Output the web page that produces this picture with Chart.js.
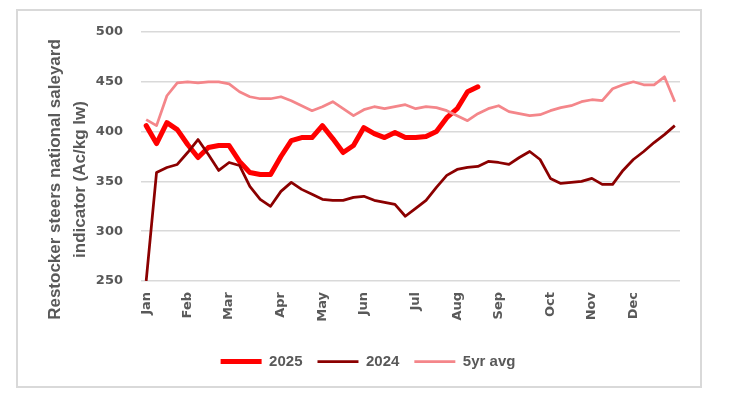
<!DOCTYPE html>
<html>
<head>
<meta charset="utf-8">
<script src="https://cdn.jsdelivr.net/npm/chart.js@4.4.1/dist/chart.umd.min.js"></script>
<style>
  html, body { margin: 0; padding: 0; background: #fff; }
  #frame { position: absolute; left: 16px; top: 9px; width: 686px; height: 379px; box-sizing: border-box; border: 2px solid #d9d9d9; }
  #wrap { position: absolute; left: 0; top: 0; width: 736px; height: 397px; }
</style>
</head>
<body>
<div id="frame"></div>
<div id="wrap"><canvas id="chart"></canvas></div>
<script>
// weekly series, 52 weeks
const monthNames = ['Jan', 'Feb', 'Mar', 'Apr', 'May', 'Jun', 'Jul', 'Aug', 'Sep', 'Oct', 'Nov', 'Dec']
const monthWeeks = [0, 4, 8, 13, 17, 21, 26, 30, 34, 39, 43, 47]

const y2025 = [406, 388, 409, 402, 387, 374, 384, 386, 386, 370, 359, 357, 357, 375, 391, 394,
  394, 406, 393, 379, 386, 404, 398, 394, 399, 394, 394, 395, 400, 414, 423, 440, 445]

const y2024 = [250, 359, 364, 367, 379, 392, 377, 361, 369, 366, 345, 332, 325, 340, 349, 342,
  337, 332, 331, 331, 334, 335, 331, 329, 327, 315, 323, 331, 344, 356, 362, 364,
  365, 370, 369, 367, 374, 380, 372, 353, 348, 349, 350, 353, 347, 347, 361, 372,
  380, 389, 397, 406]

const avg5yr = [412, 406, 436, 449, 450, 449, 450, 450, 448, 440, 435, 433, 433, 435, 431, 426,
  421, 425, 430, 423, 416, 422, 425, 423, 425, 427, 423, 425, 424, 421, 416, 411,
  418, 423, 426, 420, 418, 416, 417, 421, 424, 426, 430, 432, 431, 443, 447, 450,
  447, 447, 455, 430]

const yTicks = [250, 300, 350, 400, 450, 500]
const yTitle = ['Restocker steers national saleyard', 'indicator (Ac/kg lw)']

const weekLabels = y2024.map((v, i) => {
  const m = monthWeeks.indexOf(i)
  return m >= 0 ? monthNames[m] : ''
})

const grey = '#595959'
Chart.defaults.font.family = '"Liberation Sans", Arial, sans-serif'
Chart.defaults.color = grey

// month labels read bottom-to-top, like the original
const monthLabels = {
  id: 'monthLabels',
  afterDraw(chart) {
    const { ctx, chartArea } = chart
    const xs = chart.scales.x
    ctx.save()
    ctx.font = 'bold 13px "DejaVu Sans"'
    ctx.fillStyle = grey
    ctx.textAlign = 'right'
    ctx.textBaseline = 'middle'
    weekLabels.forEach((lab, i) => {
      if (!lab) return
      ctx.save()
      ctx.translate(xs.getPixelForValue(i), chartArea.bottom + 11)
      ctx.rotate(-Math.PI / 2)
      ctx.fillText(lab, 0, 0)
      ctx.restore()
    })
    ctx.restore()
  }
}

const axisTitle = {
  id: 'axisTitle',
  afterDraw(chart) {
    const { ctx, chartArea } = chart
    const cy = (chartArea.top + chartArea.bottom) / 2 + 23
    ctx.save()
    ctx.font = 'bold 17px "Liberation Sans"'
    ctx.fillStyle = grey
    ctx.textAlign = 'center'
    ctx.textBaseline = 'middle'
    yTitle.forEach((line, i) => {
      ctx.save()
      ctx.translate(chartArea.left - 86 + i * 25, cy)
      ctx.rotate(-Math.PI / 2)
      ctx.fillText(line, 0, 0)
      ctx.restore()
    })
    ctx.restore()
  }
}

new Chart(document.getElementById('chart'), {
  type: 'line',
  data: {
    labels: weekLabels,
    datasets: [
      {
        label: '2025',
        data: y2025,
        borderColor: '#ff0000',
        backgroundColor: '#ff0000',
        borderWidth: 5,
        borderCapStyle: 'round',
        borderJoinStyle: 'round',
        order: 2
      },
      {
        label: '2024',
        data: y2024,
        borderColor: '#8b0000',
        backgroundColor: '#8b0000',
        borderWidth: 2.75,
        borderJoinStyle: 'round',
        order: 1
      },
      {
        label: '5yr avg',
        data: avg5yr,
        borderColor: '#f4868a',
        backgroundColor: '#f4868a',
        borderWidth: 2.75,
        borderJoinStyle: 'round',
        order: 0
      }
    ]
  },
  options: {
    responsive: true,
    maintainAspectRatio: false,
    animation: false,
    layout: {
      padding: { left: 28, right: 28, top: 32, bottom: 18 }
    },
    elements: {
      point: { radius: 0, pointStyle: 'line' },
      line: { tension: 0 }
    },
    scales: {
      x: {
        offset: true,
        grid: { display: false },
        border: { display: false },
        ticks: { display: false },
        afterFit: (scale) => { scale.height = 58 }
      },
      y: {
        min: 250,
        max: 500,
        afterBuildTicks: (scale) => { scale.ticks = yTicks.map(v => ({ value: v })) },
        grid: { color: '#d9d9d9', lineWidth: 1.5, drawTicks: false },
        border: { display: false },
        ticks: {
          padding: 18,
          color: grey,
          font: { family: '"DejaVu Sans"', size: 13, weight: 'bold' }
        },
        afterFit: (scale) => { scale.width = 113 }
      },
      // empty right-hand box so the plot ends where the original does
      yRight: {
        position: 'right',
        grid: { display: false },
        border: { display: false },
        ticks: { display: false },
        afterFit: (scale) => { scale.width = 28 }
      }
    },
    plugins: {
      legend: {
        position: 'bottom',
        labels: {
          usePointStyle: true,
          pointStyleWidth: 41,
          padding: 15,
          color: grey,
          font: { size: 15, weight: 'bold' },
          sort: (a, b) => a.datasetIndex - b.datasetIndex
        }
      },
      tooltip: { enabled: false }
    }
  },
  plugins: [monthLabels, axisTitle]
})
</script>
</body>
</html>
